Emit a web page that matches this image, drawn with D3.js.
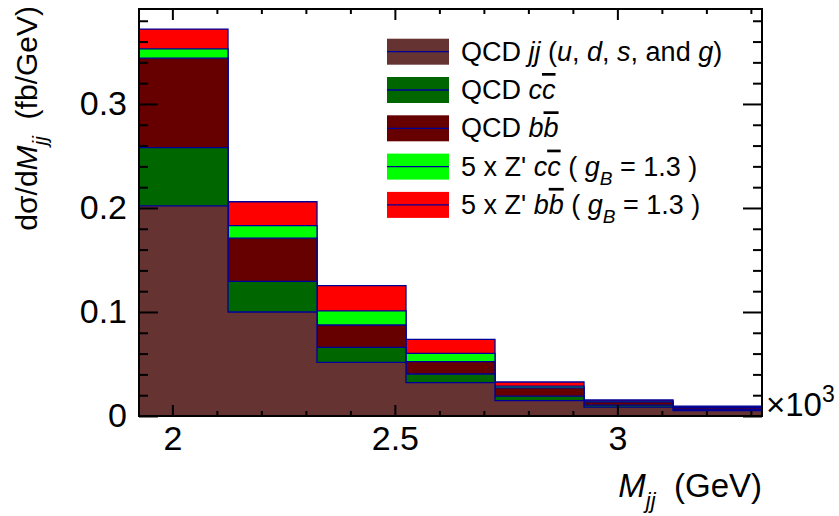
<!DOCTYPE html>
<html>
<head>
<meta charset="utf-8">
<script src="https://cdn.jsdelivr.net/npm/d3@7"></script>
<style>
  body { margin: 0; background: #fff; }
  svg { font-family: 'Liberation Sans', Arial, Helvetica, sans-serif; }
</style>
</head>
<body>
<div id="vis"></div>
<script>
// bin edges in GeV (200 GeV bins)
const binEdges = [1925, 2125, 2325, 2525, 2725, 2925, 3125, 3325];
// contributions per bin, fb/GeV (stacked bottom -> top)
const qcdJJ = [0.202, 0.100, 0.0516, 0.032, 0.0147, 0.0085, 0.0052];
const qcdCC = [0.056, 0.0295, 0.0144, 0.0084, 0.0045, 0.0020, 0.0013];
const qcdBB = [0.086, 0.0415, 0.0215, 0.0118, 0.0078, 0.0030, 0.0017];
const zprCC = [0.009, 0.012, 0.0135, 0.0081, 0.0018, 0.0010, 0.0006];
const zprBB = [0.019, 0.023, 0.0243, 0.0134, 0.0039, 0.0010, 0.0007];

const seriesKeys = ['jj', 'cc', 'bb', 'zcc', 'zbb'];
const seriesColors = ['#663333', '#006600', '#660000', '#00ff00', '#ff0000'];

const xMajorTicks = [2000, 2500, 3000];
const yMajorTicks = [0, 0.1, 0.2, 0.3];

// legend labels, split into pieces: i = italic, o = overline, s = subscript
const legendLabels = [
  [{t: 'QCD '}, {t: 'jj', i: 1}, {t: ' ('}, {t: 'u', i: 1}, {t: ', '}, {t: 'd', i: 1},
    {t: ', '}, {t: 's', i: 1}, {t: ', and '}, {t: 'g', i: 1}, {t: ')'}],
  [{t: 'QCD '}, {t: 'c', i: 1}, {t: 'c', i: 1, o: 1}],
  [{t: 'QCD '}, {t: 'b', i: 1}, {t: 'b', i: 1, o: 1}],
  [{t: '5 x Z\' '}, {t: 'c', i: 1}, {t: 'c', i: 1, o: 1}, {t: ' ( '}, {t: 'g', i: 1},
    {t: 'B', i: 1, s: 1}, {t: ' = 1.3 )'}],
  [{t: '5 x Z\' '}, {t: 'b', i: 1}, {t: 'b', i: 1, o: 1}, {t: ' ( '}, {t: 'g', i: 1},
    {t: 'B', i: 1, s: 1}, {t: ' = 1.3 )'}],
];

const W = 839;
const H = 516;
const frame = {left: 139, right: 762, top: 9, bottom: 416};

const svg = d3.select('#vis')
  .append('svg')
  .attr('width', W)
  .attr('height', H);

const x = d3.scaleLinear()
  .domain([binEdges[0], binEdges[binEdges.length - 1]])
  .range([frame.left, frame.right]);
const y = d3.scaleLinear()
  .domain([0, 0.3913])
  .range([frame.bottom, frame.top]);

// build table and stack it
const table = binEdges.slice(0, -1).map((e, i) => ({
  lo: e, hi: binEdges[i + 1],
  jj: qcdJJ[i], cc: qcdCC[i], bb: qcdBB[i], zcc: zprCC[i], zbb: zprBB[i],
}));
const stacked = d3.stack().keys(seriesKeys)(table);

const area = d3.area()
  .curve(d3.curveStepAfter)
  .x((d) => x(d.x))
  .y0(y(0))
  .y1((d) => y(d.v));

// draw cumulative histograms from the top one down
const layers = svg.append('g');
stacked.slice().reverse().forEach((s) => {
  const pts = s.map((d) => ({x: d.data.lo, v: d[1]}));
  pts.push({x: s[s.length - 1].data.hi, v: s[s.length - 1][1]});
  layers.append('path')
    .datum(pts)
    .attr('d', area)
    .attr('fill', seriesColors[s.index])
    .attr('stroke', '#000099')
    .attr('stroke-width', 1.3);
});

// axes, ROOT style ticks inside the frame
const xMinor = d3.range(1900, 3400, 100).filter((v) => v >= 1925 && v <= 3325 && v % 500 !== 0);
const yMinor = d3.range(0, 0.40, 0.02).filter((v) => Math.round(v * 100) % 10 !== 0);

function styleAxis(g) {
  g.attr('font-size', null).attr('font-family', null);
  g.select('.domain').remove();
  g.selectAll('line').attr('stroke', '#000').attr('stroke-width', 2);
  g.selectAll('text').attr('fill', '#000').style('font-size', '34px');
}

svg.append('g')
  .attr('transform', 'translate(0,' + frame.bottom + ')')
  .call(d3.axisBottom(x).tickValues(xMajorTicks).tickSize(-11).tickSizeOuter(0)
    .tickPadding(10).tickFormat((d) => d / 1000))
  .call(styleAxis);
svg.append('g')
  .attr('transform', 'translate(0,' + frame.bottom + ')')
  .call(d3.axisBottom(x).tickValues(xMinor).tickSize(-5).tickSizeOuter(0).tickFormat(''))
  .call(styleAxis);
svg.append('g')
  .attr('transform', 'translate(0,' + frame.top + ')')
  .call(d3.axisTop(x).tickValues(xMajorTicks).tickSize(-11).tickSizeOuter(0).tickFormat(''))
  .call(styleAxis);
svg.append('g')
  .attr('transform', 'translate(0,' + frame.top + ')')
  .call(d3.axisTop(x).tickValues(xMinor).tickSize(-5).tickSizeOuter(0).tickFormat(''))
  .call(styleAxis);

svg.append('g')
  .attr('transform', 'translate(' + frame.left + ',0)')
  .call(d3.axisLeft(y).tickValues(yMajorTicks).tickSize(-19).tickSizeOuter(0)
    .tickPadding(12).tickFormat((d) => d === 0 ? '0' : d.toFixed(1)))
  .call(styleAxis);
svg.append('g')
  .attr('transform', 'translate(' + frame.left + ',0)')
  .call(d3.axisLeft(y).tickValues(yMinor).tickSize(-9).tickSizeOuter(0).tickFormat(''))
  .call(styleAxis);
svg.append('g')
  .attr('transform', 'translate(' + frame.right + ',0)')
  .call(d3.axisRight(y).tickValues(yMajorTicks).tickSize(-19).tickSizeOuter(0).tickFormat(''))
  .call(styleAxis);
svg.append('g')
  .attr('transform', 'translate(' + frame.right + ',0)')
  .call(d3.axisRight(y).tickValues(yMinor).tickSize(-9).tickSizeOuter(0).tickFormat(''))
  .call(styleAxis);

// frame
svg.append('rect')
  .attr('x', frame.left)
  .attr('y', frame.top)
  .attr('width', frame.right - frame.left)
  .attr('height', frame.bottom - frame.top)
  .attr('fill', 'none')
  .attr('stroke', '#000')
  .attr('stroke-width', 2);

// x10^3 exponent
const expo = svg.append('text')
  .attr('x', 766)
  .attr('y', 416)
  .style('font-size', '33px');
expo.append('tspan').text('\u00d710');
expo.append('tspan').attr('dy', -14).style('font-size', '23px').text('3');

// axis titles
const xt = svg.append('text')
  .attr('x', frame.right)
  .attr('y', 497)
  .attr('text-anchor', 'end')
  .style('font-size', '33px');
xt.append('tspan').style('font-style', 'italic').text('M');
xt.append('tspan').attr('dy', 11).style('font-style', 'italic').style('font-size', '22px').text('jj');
xt.append('tspan').attr('dy', -11).text('\u00a0\u00a0(GeV)');

const yt = svg.append('text')
  .attr('transform', 'translate(37,6) rotate(-90)')
  .attr('text-anchor', 'end')
  .style('font-size', '30px');
yt.append('tspan').text('d\u03c3/d');
yt.append('tspan').style('font-style', 'italic').text('M');
yt.append('tspan').attr('dy', 10).style('font-style', 'italic').style('font-size', '21px').text('jj');
yt.append('tspan').attr('dy', -10).text('\u00a0\u00a0(fb/GeV)');

// legend
const legend = svg.append('g');
legendLabels.forEach((pieces, i) => {
  const cy = 51.7 + i * 38.3;
  legend.append('rect')
    .attr('x', 387)
    .attr('y', cy - 13)
    .attr('width', 62)
    .attr('height', 26)
    .attr('fill', seriesColors[i]);
  legend.append('line')
    .attr('x1', 387).attr('x2', 449)
    .attr('y1', cy).attr('y2', cy)
    .attr('stroke', '#000099')
    .attr('stroke-width', 1.3);
  const t = legend.append('text')
    .attr('x', 461)
    .attr('y', cy + 9)
    .style('font-size', '27px');
  let shifted = false;
  pieces.forEach((p) => {
    const sp = t.append('tspan').text(p.t.replace(/ /g, '\u00a0'));
    if (p.i) sp.style('font-style', 'italic');
    if (p.o) sp.style('text-decoration', 'overline');
    if (p.s) {
      sp.attr('dy', 9).style('font-size', '19px');
      shifted = true;
    } else if (shifted) {
      sp.attr('dy', -9);
      shifted = false;
    }
  });
});
</script>
</body>
</html>
